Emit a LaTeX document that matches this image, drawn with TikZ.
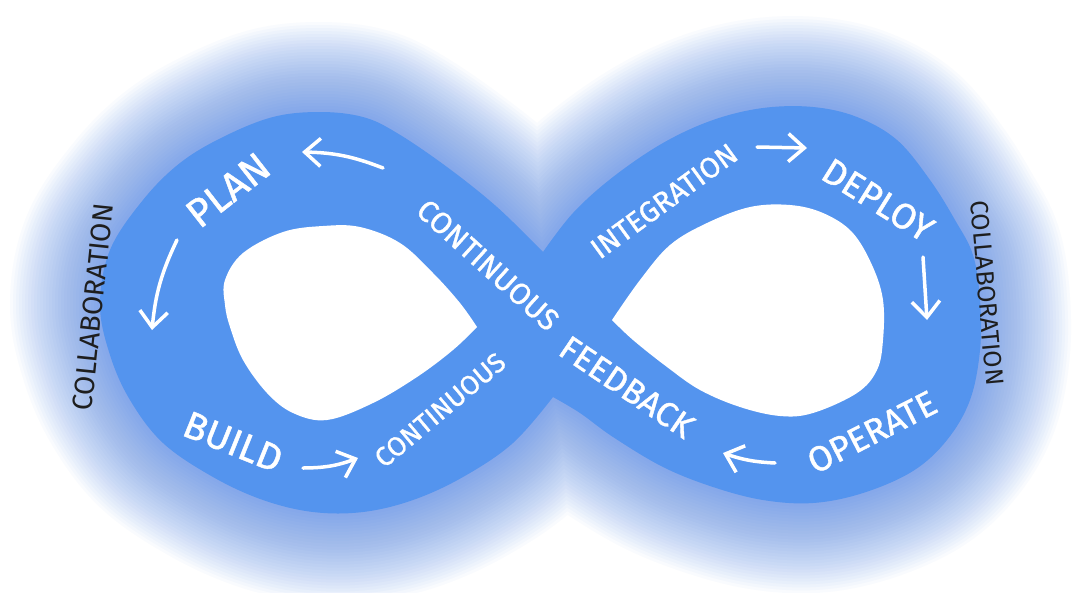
\documentclass[tikz,border=0pt]{standalone}
\usepackage{fontspec}
\setmainfont{Fira Sans}
\newfontfamily\handfont{Fira Sans}[FakeBold=1.2]
\usetikzlibrary{arrows.meta}
\definecolor{loopblue}{HTML}{5494EE}
\definecolor{glowblue}{HTML}{4A80EA}
\definecolor{inkgrey}{HTML}{1E1E1E}
\newcommand{\loopouter}{plot[smooth,tension=0.6] coordinates {(553,397) (513,443) (463,477) (413,500) (363,512) (313,512) (263,500) (213,477) (163,443) (130,400) (110,355) (100,305) (110,250) (143,200) (180,163) (223,137) (273,117) (320,112) (363,117) (397,133) (447,167) (497,207) (543,252)}
 -- plot[smooth,tension=0.6] coordinates {(543,252) (573,213) (613,177) (663,143) (713,120) (763,108) (813,107) (857,117) (897,140) (930,180) (955,220) (973,255) (980,300) (980,350) (970,400) (947,440) (913,471) (863,493) (813,503) (763,500) (713,487) (663,467) (613,437) (580,413) (553,397)} -- cycle}

\begin{document}
\begin{tikzpicture}[x=1pt,y=-1pt,
every node/.style={inner sep=0pt},
stage/.style={text=white},
side/.style={text=inkgrey},
arr/.style={-{Straight Barb[length=16pt,width=28pt]},white,line width=3.5pt,line cap=round,line join=round}
]
\useasboundingbox (0,0) rectangle (1086,592);
\clip (0,0) rectangle (1086,592);
\fill[white] (0,0) rectangle (1086,592);

\foreach \w in {6,12,...,180}
  \draw[glowblue,opacity=0.032,line width=\w pt,line join=round] \loopouter;
\fill[loopblue] \loopouter;
\fill[white] plot[smooth,tension=0.6] coordinates {(477,327) (460,303) (433,273) (400,243) (360,227) (323,226) (283,232) (243,253) (225,280) (225,305) (230,327) (243,360) (267,393) (293,413) (327,420) (373,403) (417,377) (453,350) (477,327)} -- cycle;
\fill[white] plot[smooth,tension=0.6] coordinates {(612,320) (640,280) (670,245) (707,223) (750,207) (790,205) (823,213) (852,232) (872,265) (883,300) (883,340) (877,370) (857,393) (813,413) (780,416) (740,407) (700,390) (667,367) (633,340) (612,320)} -- cycle;

\node[stage,rotate=38,font=\handfont\fontsize{40}{42}\selectfont] (plan) at (228,190) {PLAN};
\node[stage,rotate=-22,font=\handfont\fontsize{38}{40}\selectfont] (build) at (233,442) {BUILD};
\node[stage,rotate=40,font=\handfont\fontsize{27}{28}\selectfont] (contlow) at (440,410) {CONTINUOUS};
\node[stage,rotate=-42,font=\handfont\fontsize{30}{32}\selectfont] (contup) at (488,265) {CONTINUOUS};
\node[stage,rotate=36,font=\handfont\fontsize{29}{30}\selectfont] (integ) at (664,201) {INTEGRATION};
\node[stage,rotate=-32,font=\handfont\fontsize{36}{38}\selectfont] (deploy) at (878,200) {DEPLOY};
\node[stage,rotate=27,font=\handfont\fontsize{35}{37}\selectfont] (operate) at (872,432) {OPERATE};
\node[stage,rotate=-34,font=\handfont\fontsize{34}{36}\selectfont] (feedback) at (627,387) {FEEDBACK};
\node[side,rotate=84,font=\fontsize{28}{30}\selectfont] (collabl) at (93,307) {COLLABORATION};
\node[side,rotate=-85,font=\fontsize{25}{27}\selectfont] (collabr) at (987,293) {COLLABORATION};

\coordinate (plantail) at (383,168);
\coordinate (planhead) at (302,152);
\coordinate (lefttail) at (177,240);
\coordinate (lefthead) at (152,330);
\coordinate (buildtail) at (303,468);
\coordinate (buildhead) at (358,458);
\coordinate (integtail) at (757,147);
\coordinate (integhead) at (807,148);
\coordinate (deploytail) at (923,257);
\coordinate (deployhead) at (927,320);
\coordinate (opertail) at (775,463);
\coordinate (operhead) at (723,453);

\draw[arr] (plantail) to[bend right=10] (planhead);
\draw[arr] (lefttail) to[bend right=10] (lefthead);
\draw[arr] (buildtail) to[bend right=10] (buildhead);
\draw[arr] (integtail) -- (integhead);
\draw[arr] (deploytail) -- (deployhead);
\draw[arr] (opertail) to[bend left=8] (operhead);
\end{tikzpicture}
\end{document}
